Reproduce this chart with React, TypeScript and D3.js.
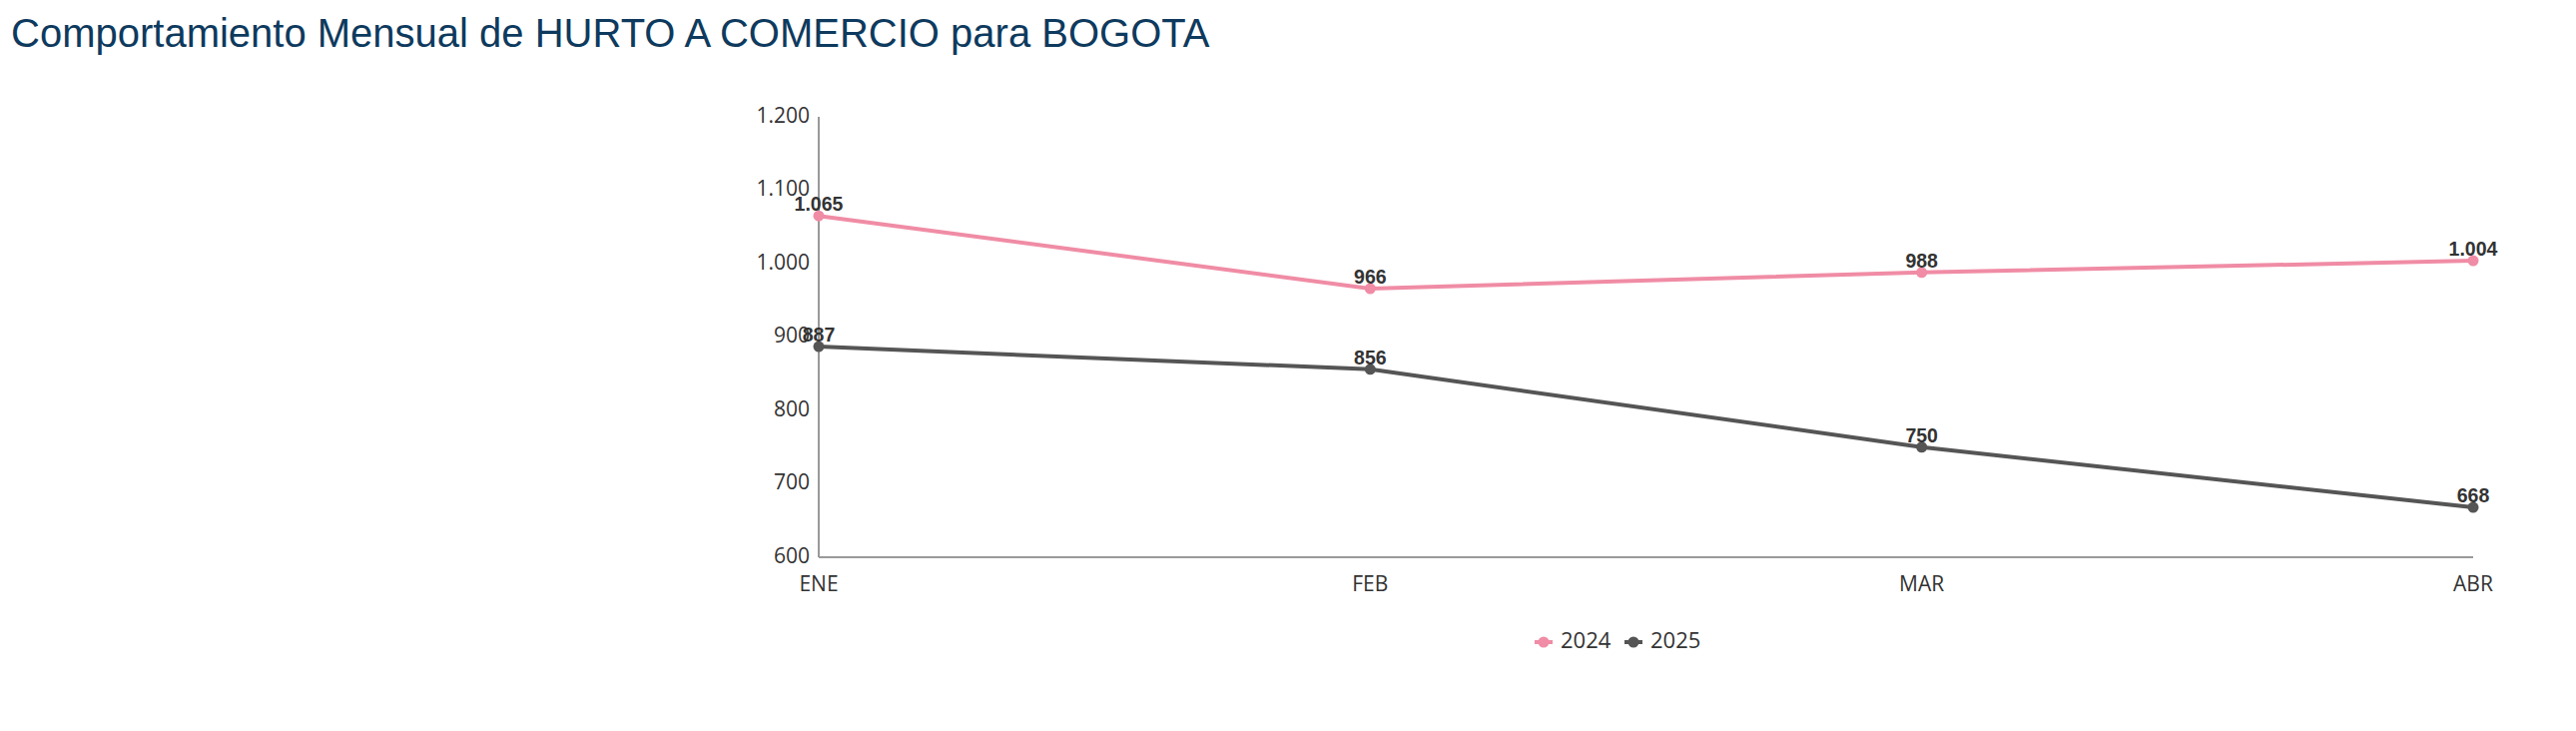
import * as d3 from 'd3'

const WIDTH = 2580
const HEIGHT = 732
const MARGIN = { top: 117, right: 103, bottom: 174, left: 820 }
const INNER_WIDTH = WIDTH - MARGIN.left - MARGIN.right
const INNER_HEIGHT = HEIGHT - MARGIN.top - MARGIN.bottom

const TITLE = 'Comportamiento Mensual de HURTO A COMERCIO para BOGOTA'
const MONTHS = ['ENE', 'FEB', 'MAR', 'ABR']
const VALUES_2024 = [1065, 966, 988, 1004]
const VALUES_2025 = [887, 856, 750, 668]
const Y_TICKS = [600, 700, 800, 900, 1000, 1100, 1200]

const SERIES = [
  { key: '2024', color: '#f08ca5', values: VALUES_2024 },
  { key: '2025', color: '#555555', values: VALUES_2025 },
]

const fmt = d3.formatLocale({ decimal: ',', thousands: '.', grouping: [3], currency: ['$', ''] }).format(',d')

const AXIS_FONT = '"Open Sans", sans-serif'
const LABEL_FONT = '"Liberation Sans", Arial, sans-serif'

export default function App() {
  const x = d3.scalePoint<string>().domain(MONTHS).range([0, INNER_WIDTH])
  const y = d3.scaleLinear().domain([600, 1200]).range([INNER_HEIGHT, 0])

  const line = d3
    .line<number>()
    .x((_, i) => x(MONTHS[i]) ?? 0)
    .y((d) => y(d))

  // legend sits under the plot, a little left of centre
  const legendX = 1537 - MARGIN.left
  const legendY = 643 - MARGIN.top
  const itemWidth = 90

  return (
    <svg
      width={WIDTH}
      height={HEIGHT}
      viewBox={`0 0 ${WIDTH} ${HEIGHT}`}
      style={{ position: 'absolute', left: 0, top: 0, background: '#fff' }}
    >
      <text x={11} y={47} fontFamily='"Liberation Sans", Arial, sans-serif' fontSize={40} fill="#0e3a5e">
        {TITLE}
      </text>
      <g transform={`translate(${MARGIN.left}, ${MARGIN.top})`}>
        {Y_TICKS.map((t) => (
          <text
            key={t}
            x={-9}
            y={y(t)}
            textAnchor="end"
            dominantBaseline="middle"
            fontFamily={AXIS_FONT}
            fontSize={21}
            fill="#333"
          >
            {fmt(t)}
          </text>
        ))}
        {MONTHS.map((m) => (
          <text
            key={m}
            x={x(m)}
            y={INNER_HEIGHT + 34}
            textAnchor="middle"
            fontFamily={AXIS_FONT}
            fontSize={21}
            fill="#333"
          >
            {m}
          </text>
        ))}
        <line x1={0} x2={0} y1={0} y2={INNER_HEIGHT} stroke="#999" strokeWidth={2} />
        <line x1={0} x2={INNER_WIDTH} y1={INNER_HEIGHT} y2={INNER_HEIGHT} stroke="#999" strokeWidth={2} />

        {SERIES.map((s) => (
          <g key={s.key}>
            <path d={line(s.values) ?? undefined} fill="none" stroke={s.color} strokeWidth={4} />
            {s.values.map((v, i) => (
              <circle key={i} cx={x(MONTHS[i])} cy={y(v)} r={5.5} fill={s.color} />
            ))}
          </g>
        ))}
        {SERIES.map((s) =>
          s.values.map((v, i) => (
            <text
              key={`${s.key}-${i}`}
              x={x(MONTHS[i])}
              y={y(v) - 5}
              textAnchor="middle"
              fontFamily={LABEL_FONT}
              fontWeight="bold"
              fontSize={19.5}
              fill="#333"
            >
              {fmt(v)}
            </text>
          )),
        )}

        <g transform={`translate(${legendX}, ${legendY})`}>
          {SERIES.map((s, i) => (
            <g key={s.key} transform={`translate(${i * itemWidth}, 0)`}>
              <line x1={0} x2={18} y1={0} y2={0} stroke={s.color} strokeWidth={4} />
              <circle cx={9} cy={0} r={5.5} fill={s.color} />
              <text x={26} y={0} dominantBaseline="middle" fontFamily={AXIS_FONT} fontSize={22} fill="#333">
                {s.key}
              </text>
            </g>
          ))}
        </g>
      </g>
    </svg>
  )
}
